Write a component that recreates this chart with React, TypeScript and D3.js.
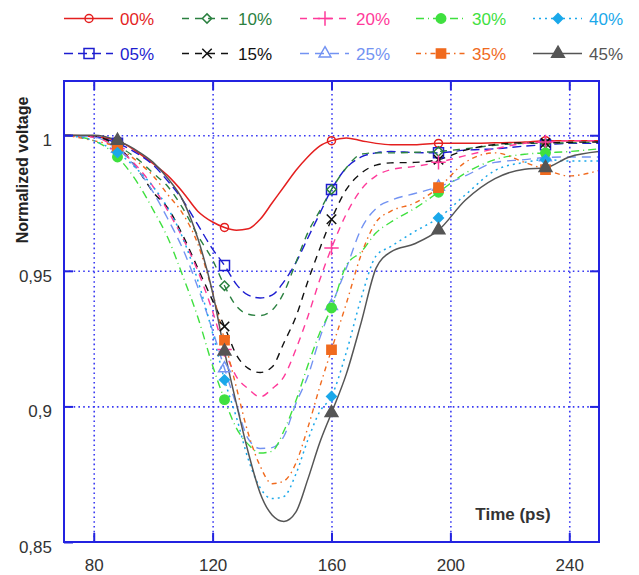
import React, { useEffect, useRef } from 'react';
import * as d3 from 'd3';

// sample times (ps) shared by every series
const TIMES = [70, 80, 88, 95, 100, 105, 110, 115, 120, 124, 128, 132, 136, 140, 144, 148, 152, 156, 160, 165, 170, 175, 180, 188, 196, 205, 215, 225, 232, 240, 250];

const V00 = [1.0, 0.9995, 0.998, 0.9935, 0.9895, 0.985, 0.979, 0.972, 0.968, 0.966, 0.965, 0.9655, 0.969, 0.975, 0.981, 0.987, 0.992, 0.996, 0.998, 0.999, 0.998, 0.997, 0.9965, 0.9965, 0.997, 0.997, 0.9972, 0.9975, 0.998, 0.998, 0.998];
const V05 = [1.0, 0.9995, 0.997, 0.993, 0.989, 0.983, 0.976, 0.967, 0.958, 0.952, 0.945, 0.941, 0.94, 0.941, 0.946, 0.953, 0.962, 0.971, 0.98, 0.988, 0.992, 0.9935, 0.994, 0.9936, 0.9935, 0.9945, 0.995, 0.996, 0.9965, 0.997, 0.997];
const V10 = [1.0, 0.9995, 0.996, 0.991, 0.986, 0.981, 0.973, 0.963, 0.954, 0.9445, 0.937, 0.934, 0.9335, 0.9355, 0.942, 0.953, 0.964, 0.972, 0.98, 0.988, 0.993, 0.9935, 0.9935, 0.9937, 0.994, 0.995, 0.9963, 0.997, 0.997, 0.9972, 0.9975];
const V15 = [1.0, 0.9995, 0.996, 0.987, 0.979, 0.973, 0.963, 0.951, 0.939, 0.9295, 0.919, 0.914, 0.9125, 0.9145, 0.9235, 0.933, 0.946, 0.958, 0.969, 0.98, 0.986, 0.989, 0.9898, 0.99, 0.991, 0.9945, 0.9966, 0.9972, 0.9972, 0.9974, 0.9975];
const V20 = [1.0, 0.9993, 0.995, 0.988, 0.981, 0.972, 0.962, 0.95, 0.935, 0.921, 0.911, 0.9065, 0.9035, 0.9065, 0.911, 0.921, 0.933, 0.9465, 0.9584, 0.971, 0.98, 0.985, 0.9873, 0.9885, 0.99, 0.9925, 0.995, 0.997, 0.9975, 0.998, 0.998];
const V25 = [1.0, 0.9993, 0.995, 0.987, 0.979, 0.969, 0.958, 0.944, 0.928, 0.914, 0.9005, 0.888, 0.8845, 0.8848, 0.889, 0.901, 0.911, 0.925, 0.937, 0.951, 0.9655, 0.973, 0.976, 0.9785, 0.981, 0.985, 0.99, 0.991, 0.9918, 0.992, 0.992];
const V30 = [1.0, 0.998, 0.992, 0.982, 0.9725, 0.962, 0.948, 0.933, 0.915, 0.9025, 0.892, 0.886, 0.8828, 0.8835, 0.891, 0.902, 0.915, 0.927, 0.9363, 0.952, 0.957, 0.964, 0.968, 0.973, 0.979, 0.986, 0.991, 0.993, 0.9935, 0.994, 0.995];
const V35 = [1.0, 0.998, 0.9955, 0.99, 0.985, 0.978, 0.971, 0.96, 0.942, 0.9244, 0.907, 0.89, 0.878, 0.8715, 0.8725, 0.879, 0.892, 0.907, 0.9209, 0.938, 0.956, 0.968, 0.972, 0.975, 0.9807, 0.99, 0.9935, 0.99, 0.9873, 0.985, 0.987];
const V40 = [1.0, 0.998, 0.9936, 0.987, 0.981, 0.973, 0.962, 0.9465, 0.927, 0.9098, 0.896, 0.8805, 0.87, 0.866, 0.8668, 0.875, 0.8875, 0.898, 0.9037, 0.92, 0.94, 0.9555, 0.959, 0.9645, 0.9695, 0.978, 0.987, 0.99, 0.991, 0.9905, 0.9905];
const V45 = [1.0, 1.0, 0.998, 0.994, 0.99, 0.984, 0.976, 0.962, 0.942, 0.9203, 0.901, 0.883, 0.868, 0.86, 0.8576, 0.861, 0.873, 0.8865, 0.8976, 0.912, 0.931, 0.951, 0.957, 0.96, 0.965, 0.976, 0.984, 0.9875, 0.988, 0.992, 0.994];

const LABELS = ['00%', '05%', '10%', '15%', '20%', '25%', '30%', '35%', '40%', '45%'];
const MARKER_TIMES = [88, 124, 160, 196, 232];
const X_TICKS = [80, 120, 160, 200, 240];
const Y_TICKS = [0.85, 0.9, 0.95, 1];

const FONT = 'Liberation Sans, Arial, sans-serif';

const SERIES = [
  { label: LABELS[0], values: V00, color: '#e41f1f', dash: null, symbol: d3.symbolCircle, size: 50, filled: false, width: 1.5 },
  { label: LABELS[1], values: V05, color: '#1d1dd0', dash: '9,5', symbol: d3.symbolSquare, size: 100, filled: false, width: 1.4 },
  { label: LABELS[2], values: V10, color: '#2b8040', dash: '7,6', symbol: d3.symbolDiamond2, size: 55, filled: false, width: 1.4 },
  { label: LABELS[3], values: V15, color: '#111111', dash: '7,6', symbol: d3.symbolTimes, size: 60, filled: false, width: 1.4 },
  { label: LABELS[4], values: V20, color: '#ff3a9a', dash: '7,6', symbol: d3.symbolPlus, size: 70, filled: false, width: 1.4 },
  { label: LABELS[5], values: V25, color: '#7393f2', dash: '9,6', symbol: d3.symbolTriangle, size: 60, filled: false, width: 1.4 },
  { label: LABELS[6], values: V30, color: '#3fe03f', dash: '8,4,1,4', symbol: d3.symbolCircle, size: 70, filled: true, width: 1.4 },
  { label: LABELS[7], values: V35, color: '#f06a1e', dash: '5,4,1.5,4', symbol: d3.symbolSquare, size: 85, filled: true, width: 1.4 },
  { label: LABELS[8], values: V40, color: '#1aa8ea', dash: '2,4', symbol: d3.symbolDiamond2, size: 60, filled: true, width: 1.5 },
  { label: LABELS[9], values: V45, color: '#555555', dash: null, symbol: d3.symbolTriangle, size: 70, filled: true, width: 1.5 },
];

const App = () => {
  const svgRef = useRef(null);

  useEffect(() => {
    const width = 639;
    const height = 575;
    const plot = { left: 64, right: 599, top: 81, bottom: 542 };
    const svg = d3.select(svgRef.current);
    svg.selectAll('*').remove();
    svg.attr('width', width).attr('height', height);

    const x = d3.scaleLinear().domain([70, 250]).range([plot.left, plot.right]);
    const y = d3.scaleLinear().domain([0.85, 1.02]).range([plot.bottom, plot.top]);
    const frameColor = '#2323e0';

    svg.append('defs').append('clipPath').attr('id', 'plot-clip')
      .append('rect')
      .attr('x', plot.left).attr('y', plot.top)
      .attr('width', plot.right - plot.left).attr('height', plot.bottom - plot.top);

    // dotted grid
    const grid = svg.append('g');
    grid.append('g')
      .attr('transform', `translate(0, ${plot.bottom})`)
      .call(d3.axisBottom(x).tickValues(X_TICKS).tickSize(-(plot.bottom - plot.top)).tickFormat(() => ''))
      .call(g => g.select('.domain').remove());
    grid.append('g')
      .attr('transform', `translate(${plot.left}, 0)`)
      .call(d3.axisLeft(y).tickValues([0.9, 0.95, 1]).tickSize(-(plot.right - plot.left)).tickFormat(() => ''))
      .call(g => g.select('.domain').remove());
    grid.selectAll('line')
      .attr('stroke', '#3a3af2')
      .attr('stroke-width', 1.6)
      .attr('stroke-dasharray', '1.6,3.2');

    // curves
    const line = d3.line()
      .x((d, i) => x(TIMES[i]))
      .y(d => y(d))
      .curve(d3.curveMonotoneX);

    const curves = svg.append('g').attr('clip-path', 'url(#plot-clip)');
    SERIES.forEach(s => {
      curves.append('path')
        .attr('d', line(s.values))
        .attr('fill', 'none')
        .attr('stroke', s.color)
        .attr('stroke-width', s.width)
        .attr('stroke-dasharray', s.dash);
    });

    const drawMarker = (g, s, cx, cy) => {
      g.append('path')
        .attr('d', d3.symbol().type(s.symbol).size(s.size)())
        .attr('transform', `translate(${cx}, ${cy})`)
        .attr('fill', s.filled ? s.color : 'none')
        .attr('stroke', s.color)
        .attr('stroke-width', 1.5);
    };

    const markers = svg.append('g');
    SERIES.forEach(s => {
      MARKER_TIMES.forEach(t => {
        const idx = TIMES.indexOf(t);
        drawMarker(markers, s, x(t), y(s.values[idx]));
      });
    });

    // ticks on four sides, pointing inward
    const tickStyle = g => {
      g.select('.domain').remove();
      g.selectAll('line').attr('stroke', frameColor).attr('stroke-width', 2);
    };
    const bottomAxis = svg.append('g')
      .attr('transform', `translate(0, ${plot.bottom})`)
      .call(d3.axisBottom(x).tickValues(X_TICKS).tickSize(-9).tickPadding(17))
      .call(tickStyle);
    bottomAxis.selectAll('text')
      .attr('font-family', FONT).attr('font-size', 17).attr('fill', '#333');

    const leftAxis = svg.append('g')
      .attr('transform', `translate(${plot.left}, 0)`)
      .call(d3.axisLeft(y).tickValues(Y_TICKS).tickSize(-9).tickPadding(12)
        .tickFormat(d => (d === 1 ? '1' : d3.format('.2~f')(d).replace('.', ','))))
      .call(tickStyle);
    leftAxis.selectAll('text')
      .attr('font-family', FONT).attr('font-size', 17).attr('fill', '#333')
      .attr('dy', '0.62em');

    svg.append('g')
      .attr('transform', `translate(0, ${plot.top})`)
      .call(d3.axisTop(x).tickValues(X_TICKS).tickSize(-9).tickFormat(() => ''))
      .call(tickStyle);
    svg.append('g')
      .attr('transform', `translate(${plot.right}, 0)`)
      .call(d3.axisRight(y).tickValues([0.9, 0.95, 1]).tickSize(-9).tickFormat(() => ''))
      .call(tickStyle);

    // frame
    svg.append('rect')
      .attr('x', plot.left).attr('y', plot.top)
      .attr('width', plot.right - plot.left).attr('height', plot.bottom - plot.top)
      .attr('fill', 'none').attr('stroke', frameColor).attr('stroke-width', 2);

    // axis titles
    svg.append('text')
      .attr('transform', 'translate(28, 170) rotate(-90)')
      .attr('text-anchor', 'middle')
      .attr('font-family', FONT).attr('font-size', 16).attr('font-weight', 'bold')
      .attr('fill', '#222')
      .text('Normalized voltage');
    svg.append('text')
      .attr('x', 513).attr('y', 520)
      .attr('text-anchor', 'middle')
      .attr('font-family', FONT).attr('font-size', 17).attr('font-weight', 'bold')
      .attr('fill', '#333')
      .text('Time (ps)');

    // legend: two rows, five columns
    const legendX = [120, 238, 356, 472, 589];
    const legendY = [18.5, 53.5];
    const legend = svg.append('g');
    SERIES.forEach((s, i) => {
      const tx = legendX[Math.floor(i / 2)];
      const ty = legendY[i % 2];
      legend.append('line')
        .attr('x1', tx - 56).attr('x2', tx - 7)
        .attr('y1', ty).attr('y2', ty)
        .attr('stroke', s.color)
        .attr('stroke-width', s.width)
        .attr('stroke-dasharray', s.dash);
      drawMarker(legend, s, tx - 31, ty);
      legend.append('text')
        .attr('x', tx).attr('y', ty)
        .attr('dy', '0.36em')
        .attr('font-family', FONT).attr('font-size', 17)
        .attr('fill', s.color)
        .text(s.label);
    });
  }, []);

  return (
    <svg ref={svgRef} style={{ position: 'absolute', left: 0, top: 0, background: '#fff' }}></svg>
  );
};

export default App;
